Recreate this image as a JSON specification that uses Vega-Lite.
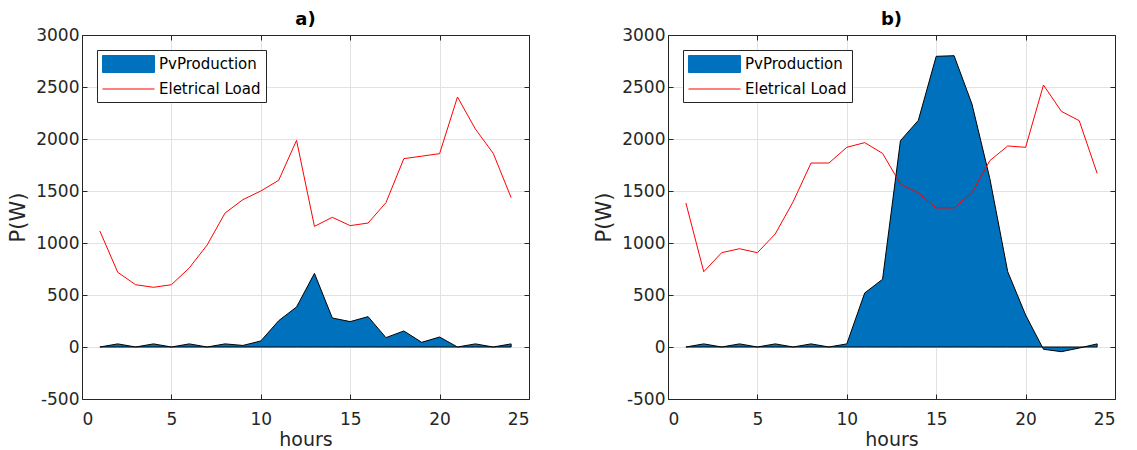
{
  "$schema": "https://vega.github.io/schema/vega-lite/v6.json",
  "padding": {"left": 7, "top": 11, "right": 5, "bottom": 0},
  "datasets": {
    "d": [
      {"panel": "a", "hour": 1, "pv": 0, "load": 1115},
      {"panel": "a", "hour": 2, "pv": 30, "load": 718},
      {"panel": "a", "hour": 3, "pv": 0, "load": 599},
      {"panel": "a", "hour": 4, "pv": 30, "load": 574},
      {"panel": "a", "hour": 5, "pv": 0, "load": 599},
      {"panel": "a", "hour": 6, "pv": 30, "load": 760},
      {"panel": "a", "hour": 7, "pv": 0, "load": 981},
      {"panel": "a", "hour": 8, "pv": 30, "load": 1288},
      {"panel": "a", "hour": 9, "pv": 15, "load": 1417},
      {"panel": "a", "hour": 10, "pv": 58, "load": 1500},
      {"panel": "a", "hour": 11, "pv": 253, "load": 1603},
      {"panel": "a", "hour": 12, "pv": 385, "load": 1987},
      {"panel": "a", "hour": 13, "pv": 708, "load": 1160},
      {"panel": "a", "hour": 14, "pv": 279, "load": 1247},
      {"panel": "a", "hour": 15, "pv": 244, "load": 1167},
      {"panel": "a", "hour": 16, "pv": 292, "load": 1192},
      {"panel": "a", "hour": 17, "pv": 90, "load": 1388},
      {"panel": "a", "hour": 18, "pv": 154, "load": 1811},
      {"panel": "a", "hour": 19, "pv": 45, "load": 1835},
      {"panel": "a", "hour": 20, "pv": 96, "load": 1859},
      {"panel": "a", "hour": 21, "pv": 0, "load": 2404},
      {"panel": "a", "hour": 22, "pv": 30, "load": 2096},
      {"panel": "a", "hour": 23, "pv": 0, "load": 1862},
      {"panel": "a", "hour": 24, "pv": 30, "load": 1436},
      {"panel": "b", "hour": 1, "pv": 0, "load": 1385},
      {"panel": "b", "hour": 2, "pv": 30, "load": 724},
      {"panel": "b", "hour": 3, "pv": 0, "load": 907},
      {"panel": "b", "hour": 4, "pv": 30, "load": 945},
      {"panel": "b", "hour": 5, "pv": 0, "load": 907},
      {"panel": "b", "hour": 6, "pv": 30, "load": 1087},
      {"panel": "b", "hour": 7, "pv": 0, "load": 1397},
      {"panel": "b", "hour": 8, "pv": 30, "load": 1769},
      {"panel": "b", "hour": 9, "pv": 0, "load": 1769},
      {"panel": "b", "hour": 10, "pv": 30, "load": 1920},
      {"panel": "b", "hour": 11, "pv": 519, "load": 1965},
      {"panel": "b", "hour": 12, "pv": 651, "load": 1862},
      {"panel": "b", "hour": 13, "pv": 1984, "load": 1567},
      {"panel": "b", "hour": 14, "pv": 2179, "load": 1481},
      {"panel": "b", "hour": 15, "pv": 2795, "load": 1337},
      {"panel": "b", "hour": 16, "pv": 2801, "load": 1337},
      {"panel": "b", "hour": 17, "pv": 2336, "load": 1484},
      {"panel": "b", "hour": 18, "pv": 1620, "load": 1792},
      {"panel": "b", "hour": 19, "pv": 724, "load": 1933},
      {"panel": "b", "hour": 20, "pv": 308, "load": 1920},
      {"panel": "b", "hour": 21, "pv": -22, "load": 2519},
      {"panel": "b", "hour": 22, "pv": -45, "load": 2266},
      {"panel": "b", "hour": 23, "pv": -10, "load": 2176},
      {"panel": "b", "hour": 24, "pv": 30, "load": 1670}
    ]
  },
  "config": {
    "font": "DejaVu Sans",
    "view": {"stroke": null},
    "axis": {
      "grid": true, "gridWidth": 1, "gridColor": "#e2e2e2",
      "domain": true, "domainColor": "#262626", "domainWidth": 1,
      "ticks": true, "tickSize": -5, "tickColor": "#262626", "tickWidth": 1,
      "labelFontSize": 17, "labelColor": "#262626", "labelFont": "DejaVu Sans",
      "titleFontWeight": "normal", "titleColor": "#262626", "titleFont": "DejaVu Sans",
      "labelExpr": "'' + datum.value"
    },
    "axisX": {"labelPadding": 17, "titlePadding": 3, "titleFontSize": 19},
    "axisY": {"labelPadding": 8, "titlePadding": 7, "titleFontSize": 21},
    "title": {"fontSize": 18, "fontWeight": "bold", "color": "black", "offset": -3, "font": "DejaVu Sans"},
    "legend": {
      "orient": "top-left", "offset": 15, "title": null,
      "strokeColor": "#262626", "fillColor": "white", "padding": 5,
      "labelFontSize": 15, "labelColor": "black", "labelFont": "DejaVu Sans",
      "symbolSize": 289, "symbolOffset": 17.5, "labelOffset": 21.5, "rowPadding": 5,
      "symbolType": "M-3.06,-1H3.06V1H-3.06Z"
    }
  },
  "hconcat": [
    {
      "title": "a)",
      "width": 447, "height": 364,
      "data": {"name": "d"},
      "transform": [{"filter": "datum.panel === 'a'"}],
      "resolve": {"axis": {"x": "independent", "y": "independent"}},
      "layer": [
        {
          "mark": {"type": "area", "stroke": "black", "strokeWidth": 1, "fillOpacity": 1, "opacity": 1},
          "encoding": {
            "x": {"field": "hour", "type": "quantitative", "scale": {"domain": [0, 25], "nice": false}, "axis": {"orient": "bottom", "values": [0, 5, 10, 15, 20, 25], "title": "hours"}},
            "y": {"field": "pv", "type": "quantitative", "scale": {"domain": [-500, 3000], "nice": false}, "axis": {"orient": "left", "values": [-500, 0, 500, 1000, 1500, 2000, 2500, 3000], "title": "P(W)"}},
            "y2": {"datum": 0},
            "color": {"datum": "PvProduction", "type": "nominal", "scale": {"domain": ["PvProduction", "Eletrical Load"], "range": ["#0072BD", "#FF0000"]},
              "legend": {"encode": {"symbols": {"update": {
                "shape": [{"test": "datum.value === 'PvProduction'", "value": "M-3.06,-1H3.06V1H-3.06Z"}, {"value": "M-3.06,0H3.06"}],
                "stroke": [{"test": "datum.value === 'PvProduction'", "value": "black"}, {"value": "#FF0000"}],
                "fill": [{"test": "datum.value === 'PvProduction'", "value": "#0072BD"}, {"value": "transparent"}],
                "strokeWidth": {"value": 1}
              }}}}}
          }
        },
        {
          "mark": {"type": "line", "strokeWidth": 1, "color": "#FF0000"},
          "encoding": {
            "x": {"field": "hour", "type": "quantitative", "axis": {"orient": "top", "values": [0, 5, 10, 15, 20, 25], "labels": false, "grid": false, "title": null}},
            "y": {"field": "load", "type": "quantitative", "axis": {"orient": "right", "values": [-500, 0, 500, 1000, 1500, 2000, 2500, 3000], "labels": false, "grid": false, "title": null}},
            "color": {"datum": "Eletrical Load", "type": "nominal",
              "legend": {"encode": {"symbols": {"update": {
                "shape": [{"test": "datum.value === 'PvProduction'", "value": "M-3.06,-1H3.06V1H-3.06Z"}, {"value": "M-3.06,0H3.06"}],
                "stroke": [{"test": "datum.value === 'PvProduction'", "value": "black"}, {"value": "#FF0000"}],
                "fill": [{"test": "datum.value === 'PvProduction'", "value": "#0072BD"}, {"value": "transparent"}],
                "strokeWidth": {"value": 1}
              }}}}}
          }
        }
      ]
    },
    {
      "title": "b)",
      "width": 447, "height": 364,
      "data": {"name": "d"},
      "transform": [{"filter": "datum.panel === 'b'"}],
      "resolve": {"axis": {"x": "independent", "y": "independent"}},
      "layer": [
        {
          "mark": {"type": "area", "stroke": "black", "strokeWidth": 1, "fillOpacity": 1, "opacity": 1},
          "encoding": {
            "x": {"field": "hour", "type": "quantitative", "scale": {"domain": [0, 25], "nice": false}, "axis": {"orient": "bottom", "values": [0, 5, 10, 15, 20, 25], "title": "hours"}},
            "y": {"field": "pv", "type": "quantitative", "scale": {"domain": [-500, 3000], "nice": false}, "axis": {"orient": "left", "values": [-500, 0, 500, 1000, 1500, 2000, 2500, 3000], "title": "P(W)"}},
            "y2": {"datum": 0},
            "color": {"datum": "PvProduction", "type": "nominal", "scale": {"domain": ["PvProduction", "Eletrical Load"], "range": ["#0072BD", "#FF0000"]},
              "legend": {"encode": {"symbols": {"update": {
                "shape": [{"test": "datum.value === 'PvProduction'", "value": "M-3.06,-1H3.06V1H-3.06Z"}, {"value": "M-3.06,0H3.06"}],
                "stroke": [{"test": "datum.value === 'PvProduction'", "value": "black"}, {"value": "#FF0000"}],
                "fill": [{"test": "datum.value === 'PvProduction'", "value": "#0072BD"}, {"value": "transparent"}],
                "strokeWidth": {"value": 1}
              }}}}}
          }
        },
        {
          "mark": {"type": "line", "strokeWidth": 1, "color": "#FF0000"},
          "encoding": {
            "x": {"field": "hour", "type": "quantitative", "axis": {"orient": "top", "values": [0, 5, 10, 15, 20, 25], "labels": false, "grid": false, "title": null}},
            "y": {"field": "load", "type": "quantitative", "axis": {"orient": "right", "values": [-500, 0, 500, 1000, 1500, 2000, 2500, 3000], "labels": false, "grid": false, "title": null}},
            "color": {"datum": "Eletrical Load", "type": "nominal",
              "legend": {"encode": {"symbols": {"update": {
                "shape": [{"test": "datum.value === 'PvProduction'", "value": "M-3.06,-1H3.06V1H-3.06Z"}, {"value": "M-3.06,0H3.06"}],
                "stroke": [{"test": "datum.value === 'PvProduction'", "value": "black"}, {"value": "#FF0000"}],
                "fill": [{"test": "datum.value === 'PvProduction'", "value": "#0072BD"}, {"value": "transparent"}],
                "strokeWidth": {"value": 1}
              }}}}}
          }
        }
      ]
    }
  ],
  "resolve": {"scale": {"color": "independent"}, "legend": {"color": "independent"}},
  "spacing": 63
}
